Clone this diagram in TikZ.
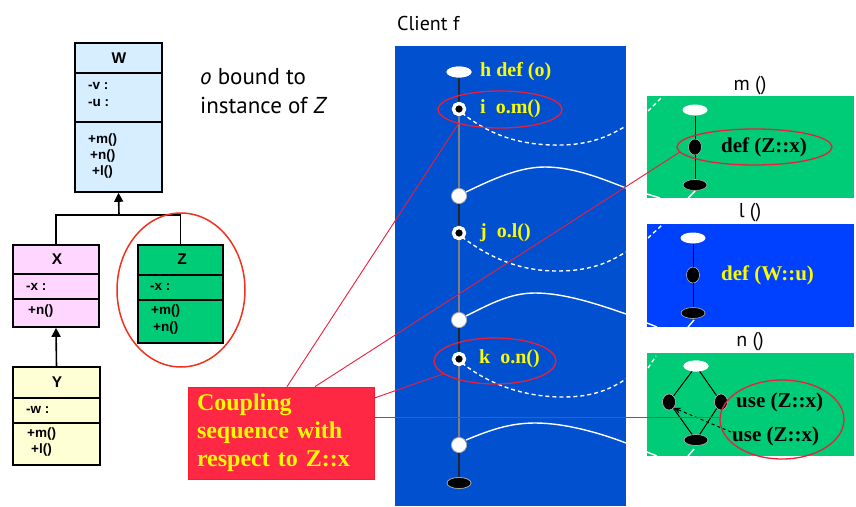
\documentclass[tikz,border=0pt]{standalone}
\usepackage{fontspec}
\setmainfont{Liberation Serif}
\setsansfont{Liberation Sans}
\newfontfamily\gill{PT Sans}
\usetikzlibrary{arrows.meta,shapes.geometric}
\definecolor{umlblue}{RGB}{214,238,255}
\definecolor{umlpink}{RGB}{255,214,255}
\definecolor{umlgreen}{RGB}{0,204,119}
\definecolor{umlyellow}{RGB}{255,255,214}
\definecolor{panelblue}{RGB}{0,80,208}
\definecolor{brightblue}{RGB}{0,64,255}
\definecolor{panelgreen}{RGB}{0,204,119}
\definecolor{cred}{RGB}{255,40,68}
\definecolor{lred}{RGB}{235,30,60}
\definecolor{ored}{RGB}{240,50,30}
\definecolor{ylw}{RGB}{250,250,0}
\tikzset{
  umlbox/.style={draw=black, line width=1.6pt, rectangle, inner sep=0pt},
  umlline/.style={draw=black, line width=1.6pt},
  umltxt/.style={font=\sffamily\bfseries\fontsize{13.5}{15}\selectfont, anchor=west, inner sep=0pt},
  umltitle/.style={font=\sffamily\bfseries\fontsize{15.5}{17}\selectfont, inner sep=0pt},
  gilltxt/.style={font=\gill\fontsize{20}{24}\selectfont, inner sep=0pt},
  ylab/.style={font=\bfseries\fontsize{20}{24}\selectfont, text=ylw, anchor=west, inner sep=0pt},
  blab/.style={font=\bfseries\fontsize{21}{24}\selectfont, text=black, anchor=west, inner sep=0pt},
  wlab/.style={font=\bfseries\fontsize{21}{24}\selectfont, text=ylw, anchor=west, inner sep=0pt},
  ring/.style={circle, fill=black, draw=white, line width=3.2pt, minimum size=11pt, inner sep=0pt},
  wdot/.style={circle, fill=white, draw=gray!70, line width=0.6pt, minimum size=15pt, inner sep=0pt},
  topell/.style={ellipse, fill=white, minimum width=25pt, minimum height=11pt, inner sep=0pt},
  botell/.style={ellipse, fill=black, draw=gray!60, line width=0.6pt, minimum width=24pt, minimum height=11pt, inner sep=0pt},
  bdot/.style={ellipse, fill=black, draw=gray!60, line width=0.6pt, minimum width=13pt, minimum height=16pt, inner sep=0pt},
  redell/.style={ellipse, draw=lred, line width=1.3pt, inner sep=0pt},
  redline/.style={draw=lred, line width=0.9pt},
  wdash/.style={draw=white, line width=1.4pt, dash pattern=on 4pt off 3pt},
  wsolid/.style={draw=white, line width=1.4pt},
  spineb/.style={draw=black!85, line width=1.8pt},
  spineg/.style={draw=gray, line width=1.8pt},
  thin/.style={draw=black, line width=1pt},
}
\begin{document}
\begin{tikzpicture}[x=1pt,y=-1pt]
\useasboundingbox (0,0) rectangle (856,506);
\fill[white] (0,0) rectangle (856,506);

% ---------------- UML classes ----------------
\node[umlbox, fill=umlblue, minimum width=87pt, minimum height=149pt] (W) at (118.5,117.5) {};
\draw[umlline] (75,73) -- (162,73);
\draw[umlline] (75,122) -- (162,122);
\node[umltitle] (Wt) at (119,58) {W};
\node[umltxt] (Wa1) at (88,86) {-v :};
\node[umltxt] (Wa2) at (88,103) {-u :};
\node[umltxt] (Wm1) at (88,140) {+m()};
\node[umltxt] (Wm2) at (90,156) {+n()};
\node[umltxt] (Wm3) at (92,172) {+l()};

\node[umlbox, fill=umlpink, minimum width=86pt, minimum height=82pt] (X) at (56,286) {};
\draw[umlline] (13,274) -- (99,274);
\draw[umlline] (13,299) -- (99,299);
\node[umltitle] (Xt) at (57,259) {X};
\node[umltxt] (Xa1) at (26,287) {-x :};
\node[umltxt] (Xm1) at (28,311) {+n()};

\node[umlbox, fill=umlgreen, minimum width=85pt, minimum height=98pt] (Z) at (180.5,294) {};
\draw[umlline] (138,275) -- (223,275);
\draw[umlline] (138,300) -- (223,300);
\node[umltitle] (Zt) at (182,259) {Z};
\node[umltxt] (Za1) at (150,287) {-x :};
\node[umltxt] (Zm1) at (151,311) {+m()};
\node[umltxt] (Zm2) at (153,328) {+n()};

\node[umlbox, fill=umlyellow, minimum width=87pt, minimum height=98pt] (Y) at (56.5,416) {};
\draw[umlline] (13,398) -- (100,398);
\draw[umlline] (13,423) -- (100,423);
\node[umltitle] (Yt) at (57,382) {Y};
\node[umltxt] (Ya1) at (26,410) {-w :};
\node[umltxt] (Ym1) at (27,434) {+m()};
\node[umltxt] (Ym2) at (31,450) {+l()};

\coordinate (J) at (119,215);
\draw[umlline, -{Triangle[length=9pt,width=9pt]}] (J) -- (W.south);
\draw[umlline] (X.north) |- (J) -| (Z.north);
\draw[umlline, -{Triangle[length=9pt,width=9pt]}] (Y.north) -- (X.south);

\node[ellipse, draw=ored, line width=1.5pt, minimum width=128pt, minimum height=154pt, inner sep=0pt] (zring) at (181,290) {};

\node[gilltxt, anchor=base west, font=\gill\fontsize{23}{27}\selectfont] (ob1) at (200,84) {\textit{o} bound to};
\node[gilltxt, anchor=base west, font=\gill\fontsize{23}{27}\selectfont] (ob2) at (200,113) {instance of \textit{Z}};

% ---------------- Client panel ----------------
\node[gilltxt, anchor=base west] (client) at (397,30) {Client f};
\fill[panelblue] (395,46) rectangle (626,506);

% curves
\draw[wdash] (462,113) .. controls (490,135) and (520,146) .. (563,145) .. controls (595,144) and (612,134) .. (626,126);
\draw[wdash] (462,237) .. controls (490,258) and (520,271) .. (557,271) .. controls (595,271) and (612,260) .. (626,252);
\draw[wdash] (462,363) .. controls (490,385) and (525,397) .. (563,397) .. controls (595,397) and (612,388) .. (626,379);
\draw[wsolid] (466,192) .. controls (495,178) and (520,167) .. (545,167) .. controls (575,167) and (605,180) .. (626,188);
\draw[wsolid] (466,316) .. controls (490,304) and (510,293) .. (535,293) .. controls (565,293) and (600,305) .. (626,314);
\draw[wsolid] (466,440) .. controls (490,430) and (510,423) .. (535,423) .. controls (565,423) and (600,433) .. (626,443);

% spine nodes
\node[topell] (h) at (459,72) {};
\node[ring] (i) at (459,109) {};
\node[wdot] (c1) at (459,196) {};
\node[ring] (j) at (459,233) {};
\node[wdot] (c2) at (459,320) {};
\node[ring] (k) at (459,359) {};
\node[wdot] (c3) at (459,445) {};
\node[botell] (e) at (459,483) {};
\draw[spineb] (h) -- (i);
\draw[spineg] (i) -- (c1);
\draw[spineb] (c1) -- (j);
\draw[spineg] (j) -- (c2);
\draw[spineb] (c2) -- (k);
\draw[spineg] (k) -- (c3);
\draw[spineb] (c3) -- (e);
% redraw nodes on top of spine
\node[topell] at (h) {};
\node[ring] at (i) {};
\node[wdot] at (c1) {};
\node[ring] at (j) {};
\node[wdot] at (c2) {};
\node[ring] at (k) {};
\node[wdot] at (c3) {};
\node[botell] at (e) {};

\node[ylab] (hl) at (480,72) {h def (o)};
\node[ylab] (il) at (480,109) {i\hspace{10pt}o.m()};
\node[ylab] (jl) at (480,233) {j\hspace{10pt}o.l()};
\node[ylab] (kl) at (479,359) {k\hspace{10pt}o.n()};

\node[redell, minimum width=124pt, minimum height=37pt] (ri) at (500,109.5) {};
\node[redell, minimum width=122pt, minimum height=46pt] (rk) at (495,361) {};

% ---------------- m() panel ----------------
\node[gilltxt] (ml) at (750,86) {m ()};
\fill[panelgreen] (647,96) rectangle (854,198);
\draw[wdash] (648,111) -- (661,98);
\draw[wsolid] (647,194) -- (660,198);
\draw[wsolid] (688,198) -- (695,191);
\node[topell] (m1) at (695,110) {};
\node[bdot] (m2) at (695,147) {};
\node[botell] (m3) at (695,185) {};
\draw[thin] (m1) -- (m2);
\draw[thin] (m2) -- (m3);
\node[blab] (mt) at (721,147) {def (Z::x)};
\node[redell, minimum width=155pt, minimum height=36pt] (mring) at (754.5,147) {};

% ---------------- l() panel ----------------
\node[gilltxt] (ll) at (750,213) {l ()};
\fill[brightblue] (647,224) rectangle (854,327);
\draw[wdash] (648,238) -- (662,225);
\draw[wsolid] (647,323) -- (657,327);
\draw[wsolid] (688,327) -- (694,320);
\node[topell] (l1) at (693,238) {};
\node[bdot] (l2) at (693,275) {};
\node[botell] (l3) at (693,313) {};
\draw[thin] (l1) -- (l2);
\draw[thin] (l2) -- (l3);
\node[wlab] (lt) at (721,275) {def (W::u)};

% ---------------- n() panel ----------------
\node[gilltxt] (nl) at (750,342) {n ()};
\fill[panelgreen] (647,353) rectangle (854,456);
\draw[wdash] (648,368) -- (656,356);
\draw[wsolid] (647,452) -- (657,456);
\draw[wsolid] (688,456) -- (694,449);
\node[topell] (n1) at (696,366) {};
\node[bdot] (n2) at (669,402) {};
\node[bdot] (n3) at (721,402) {};
\node[botell] (n4) at (696,440) {};
\draw[thin] (n1) -- (n2);
\draw[thin] (n1) -- (n3);
\draw[thin] (n2) -- (n4);
\draw[thin] (n3) -- (n4);
\node[topell] at (n1) {};
\node[bdot] at (n2) {};
\node[bdot] at (n3) {};
\node[botell] at (n4) {};
\coordinate (da) at (731,432);
\draw[thin, dashed, -{Stealth[length=7pt,width=6pt,open]}] (da) -- (n2.south east);
\node[blab] (nt1) at (736,402) {use (Z::x)};
\node[blab] (nt2) at (732,436) {use (Z::x)};
\node[redell, minimum width=124pt, minimum height=79pt] (nring) at (782,419.5) {};

% ---------------- Coupling box ----------------
\node[fill=cred, draw=red!40!cred, line width=0.8pt, minimum width=186pt, minimum height=92pt, text width=168pt, inner xsep=9pt, inner ysep=0pt, align=left, text=ylw, font=\bfseries\fontsize{24}{28}\selectfont] (cs) at (281,433) {Coupling\\sequence with\\respect to Z::x};

% red connectors
\draw[redline] (ri.199) -- ([xshift=6pt]cs.north);
\draw[redline] (mring.184) -- ([xshift=34pt]cs.north);
\draw[redline] (rk.194) -- ([yshift=35pt]cs.east);
\draw[redline] ([yshift=16pt]cs.east) -- ([yshift=16pt]cs.east -| nring.west);
\end{tikzpicture}
\end{document}
